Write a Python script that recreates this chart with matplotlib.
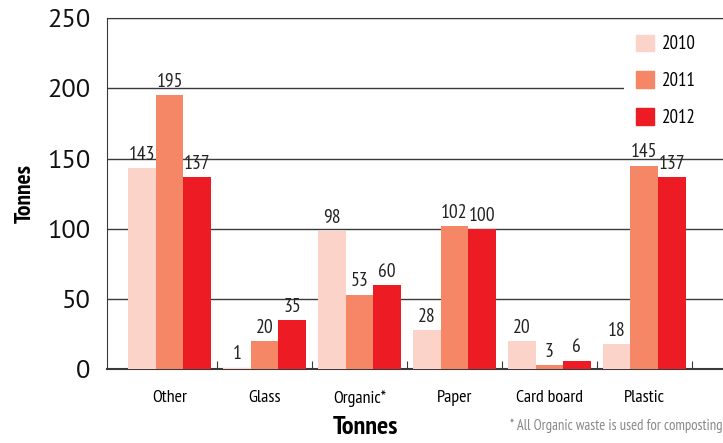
import matplotlib
matplotlib.use('Agg')
import matplotlib.pyplot as plt
import numpy as np
from matplotlib.patches import Patch

plt.rcParams['font.family'] = ['PT Sans Narrow', 'DejaVu Sans']

categories = ['Other', 'Glass', 'Organic*', 'Paper', 'Card board', 'Plastic']
years = ['2010', '2011', '2012']
v2010 = [143, 1, 98, 28, 20, 18]
v2011 = [195, 20, 53, 102, 3, 145]
v2012 = [137, 35, 60, 100, 6, 137]
colors = ['#fbd3c9', '#f58767', '#ed1c24']

fig = plt.figure(figsize=(7.23, 4.43), dpi=100)
ax = fig.add_axes([0.148, 0.167, 0.852, 0.792])

x = np.arange(len(categories))
w = 0.29
for i, (vals, c) in enumerate(zip([v2010, v2011, v2012], colors)):
    bars = ax.bar(x + (i - 1) * w, vals, w, color=c, zorder=3)
    ax.bar_label(bars, padding=3, fontsize=14, color='#222222')

ax.set_xlim(-0.66, 5.83)
ax.set_ylim(0, 250)
ax.set_yticks(range(0, 251, 50))
ax.yaxis.grid(True, color='#3a3a3a', linewidth=1.0, zorder=0)
ax.tick_params(axis='y', length=0, pad=12, labelsize=19, labelcolor='#111111')
for lab in ax.get_yticklabels():
    lab.set_family(['PT Sans', 'DejaVu Sans'])

# boundary ticks between groups, labels at group centres
ax.set_xticks(list(x[:-1] + 0.5) + [5.5])
ax.set_xticklabels([])
ax.tick_params(axis='x', which='major', direction='in', length=6, color='#3a3a3a')
ax.set_xticks(x, minor=True)
ax.set_xticklabels(categories, minor=True, fontsize=13)
ax.tick_params(axis='x', which='minor', length=0, pad=15)

ax.spines['right'].set_visible(False)
ax.spines['top'].set_color('#3a3a3a')
ax.spines['top'].set_zorder(6)
ax.spines['left'].set_color('#3a3a3a')
ax.spines['bottom'].set_color('#3a3a3a')
ax.spines['bottom'].set_linewidth(1.5)

ax.set_ylabel('Tonnes', fontsize=17, fontweight='bold')
ax.yaxis.set_label_coords(-0.115, 0.5)
ax.set_xlabel('Tonnes', fontsize=19, fontweight='bold')
ax.xaxis.set_label_coords(0.42, -0.135)

handles = [Patch(color=c) for c in colors]
ax.legend(handles, years, loc='upper left', bbox_to_anchor=(0.84, 0.985, 0.16, 0.0),
          mode='expand', fontsize=13.5, frameon=True, facecolor='white', edgecolor='none',
          framealpha=1, fancybox=False, handlelength=1.0, handleheight=1.0,
          labelspacing=0.95, handletextpad=0.4, borderpad=0.6, borderaxespad=0)

fig.text(0.999, 0.038, '* All Organic waste is used for composting', ha='right',
         va='center', fontsize=10.5, color='#888888')

fig.savefig('out.png', dpi=100)
